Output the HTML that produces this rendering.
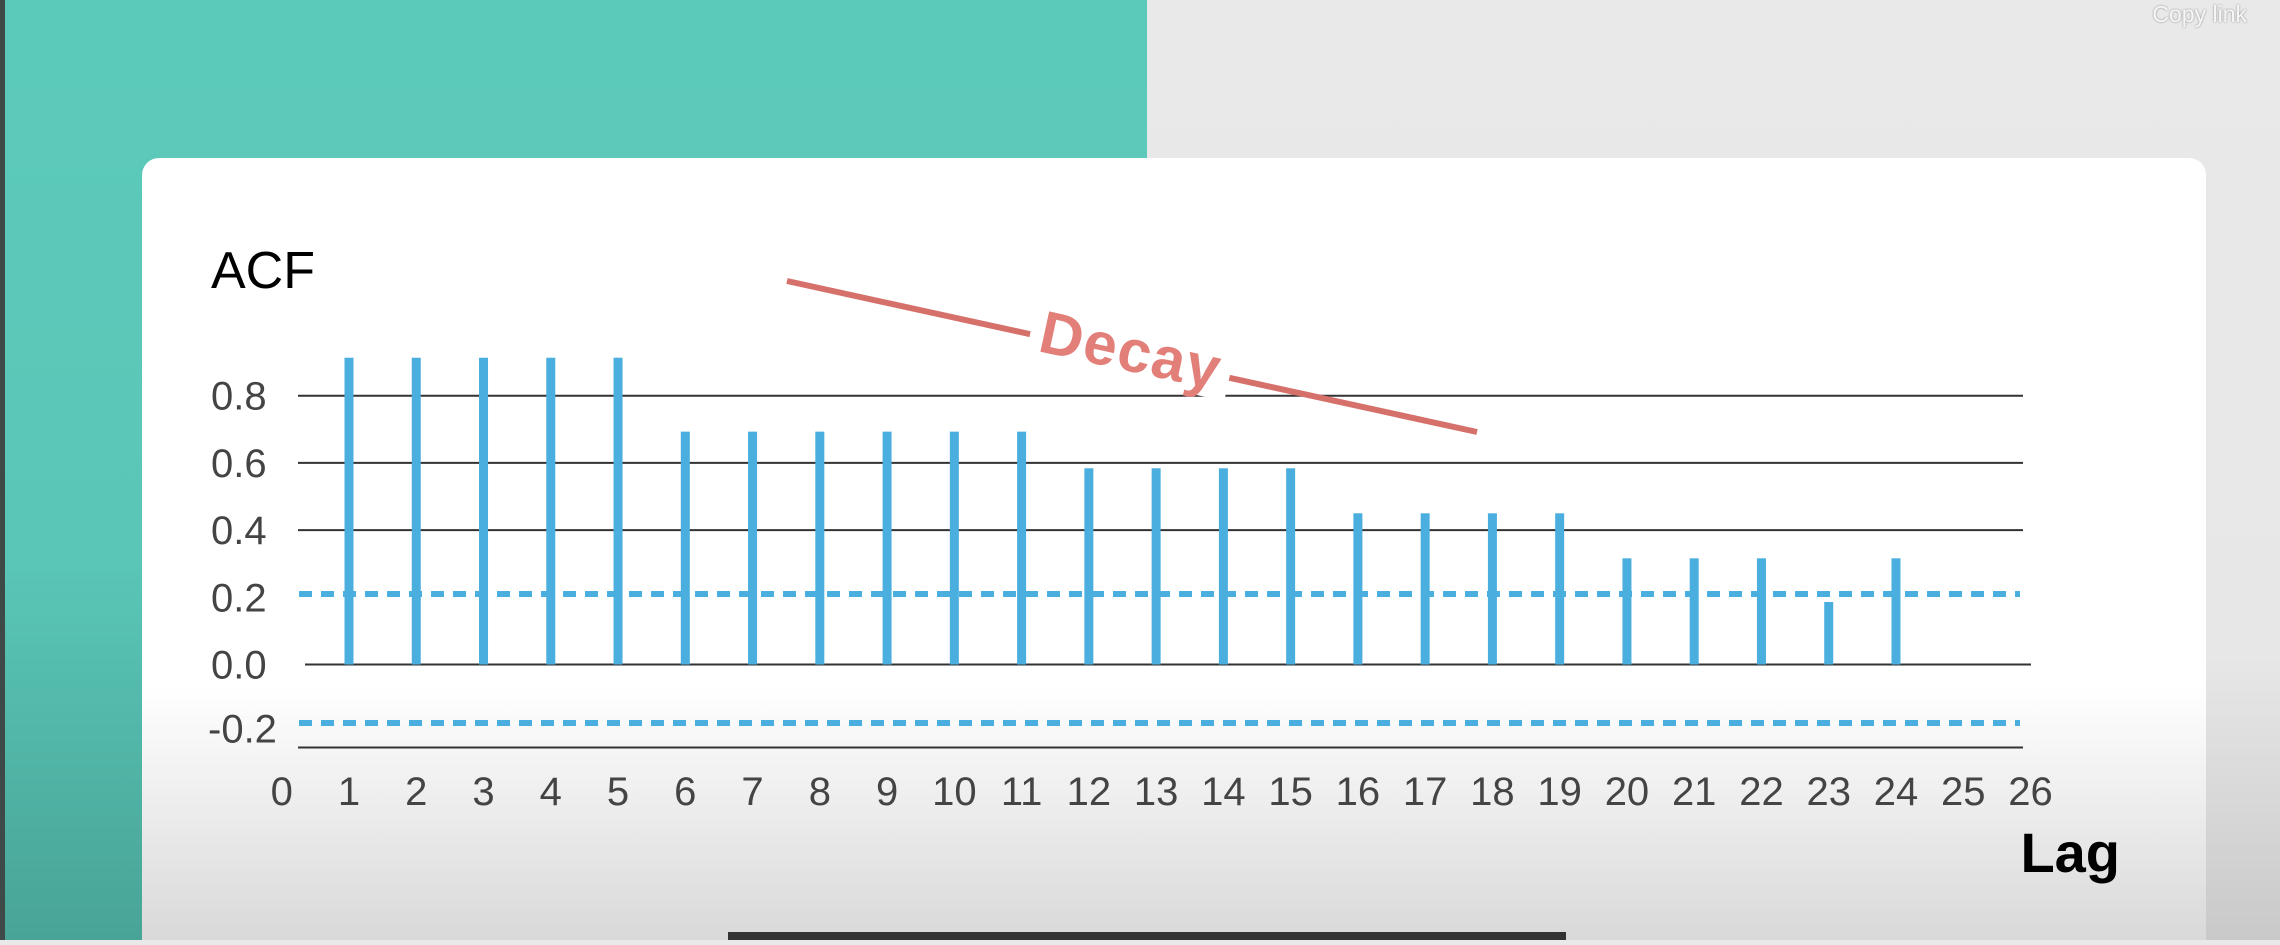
<!DOCTYPE html>
<html><head><meta charset="utf-8"><style>
html,body{margin:0;padding:0;}
body{width:2280px;height:940px;position:relative;overflow:hidden;background:#e9e9e9;font-family:"Liberation Sans",sans-serif;}
</style></head><body>
<svg id="chart" width="2280" height="940" viewBox="0 0 2280 940" xmlns="http://www.w3.org/2000/svg">
<defs>
<linearGradient id="tealg" x1="0" y1="0" x2="0" y2="1"><stop offset="0" stop-color="#5ccabb"/><stop offset="0.6" stop-color="#5ac6b7"/><stop offset="1" stop-color="#48a496"/></linearGradient>
<linearGradient id="cardg" x1="0" y1="0" x2="0" y2="1"><stop offset="0" stop-color="#ffffff"/><stop offset="0.66" stop-color="#ffffff"/><stop offset="1" stop-color="#d6d6d6"/></linearGradient>
<linearGradient id="bgg" x1="0" y1="0" x2="0" y2="1"><stop offset="0" stop-color="#e9e9e9"/><stop offset="0.7" stop-color="#e7e7e7"/><stop offset="1" stop-color="#c9c9c9"/></linearGradient>
</defs>
<rect x="0" y="0" width="2280" height="940" fill="url(#bgg)"/>
<rect x="0" y="0" width="1147" height="940" fill="url(#tealg)"/>
<rect x="0" y="0" width="5" height="940" fill="#3d4a48"/>
<text x="2247" y="22" text-anchor="end" font-size="23" fill="#f6f6f6" style="text-shadow:0 0 2px #888">Copy link</text>
<rect x="142" y="158" width="2064" height="800" rx="17" fill="url(#cardg)"/>
<text x="211" y="288" font-size="52" fill="#000">ACF</text>
<text x="2120" y="872" text-anchor="end" font-size="56" font-weight="bold" fill="#000">Lag</text>
<g id="grid"></g><g id="conf"></g><g id="bars"></g><g id="ylabels"></g><g id="xlabels"></g>
<g>
<line x1="787" y1="281" x2="1477" y2="432" stroke="#d6706a" stroke-width="6"/>
<g transform="translate(1131,350) rotate(12.3)">
<rect x="-102" y="-36" width="204" height="66" fill="#fff"/>
<text x="0" y="21" text-anchor="middle" font-size="60" font-weight="bold" letter-spacing="1.5" fill="#e27f79">Decay</text>
</g></g>
<rect x="728" y="932" width="838" height="8" fill="#333"/>
</svg>
<script>
const lags=[1,2,3,4,5,6,7,8,9,10,11,12,13,14,15,16,17,18,19,20,21,22,23,24];
const acfValues=[0.913,0.913,0.913,0.913,0.913,0.693,0.693,0.693,0.693,0.693,0.693,0.584,0.584,0.584,0.584,0.45,0.45,0.45,0.45,0.316,0.316,0.316,0.186,0.316];
const gridValues=[0.8,0.6,0.4,0.0,-0.247];
const yTickLabels=["0.8","0.6","0.4","0.2","0.0","-0.2"];
const yTickPos=[0.8,0.6,0.4,0.2,0.0,-0.19];
const xTickLabels=["0","1","2","3","4","5","6","7","8","9","10","11","12","13","14","15","16","17","18","19","20","21","22","23","24","25","26"];
const confBand=[0.21,-0.174];
const NS="http://www.w3.org/2000/svg";
function y(v){return 664.5-336*v;}
function x(l){return 349+(l-1)*67.26;}
function mk(t,a,p){const e=document.createElementNS(NS,t);for(const k in a)e.setAttribute(k,a[k]);p.appendChild(e);return e;}
const grid=document.getElementById('grid');
gridValues.forEach((v,i)=>{
 const l=mk('line',{x1:v===0?305:298,x2:v===0?2031:2023,y1:y(v),y2:y(v),stroke:'#333','stroke-width':2},grid);
 
 
});
const conf=document.getElementById('conf');
confBand.forEach(v=>{
 const l=mk('line',{x1:299,x2:2020,y1:y(v),y2:y(v),stroke:'#4aaede','stroke-width':6,'stroke-dasharray':'13 9'},conf);
 
 
});
const bars=document.getElementById('bars');
lags.forEach((l,i)=>{
 const r=mk('rect',{x:x(l)-4.5,y:y(acfValues[i]),width:9,height:y(0)-y(acfValues[i]),fill:'#4aaede'},bars);
 
 
});
const yl=document.getElementById('ylabels');
yTickLabels.forEach((t,i)=>{
 const e=mk('text',{x:t[0]==='-'?208:211,y:y(yTickPos[i])+14,'font-size':40,fill:'#444'},yl);
 e.textContent=t;
 
 
});
const xl=document.getElementById('xlabels');
xTickLabels.forEach((t,i)=>{
 const e=mk('text',{x:x(i),y:805,'text-anchor':'middle','font-size':40,fill:'#444'},xl);
 e.textContent=t;
 
 
});
</script>
</body></html>
